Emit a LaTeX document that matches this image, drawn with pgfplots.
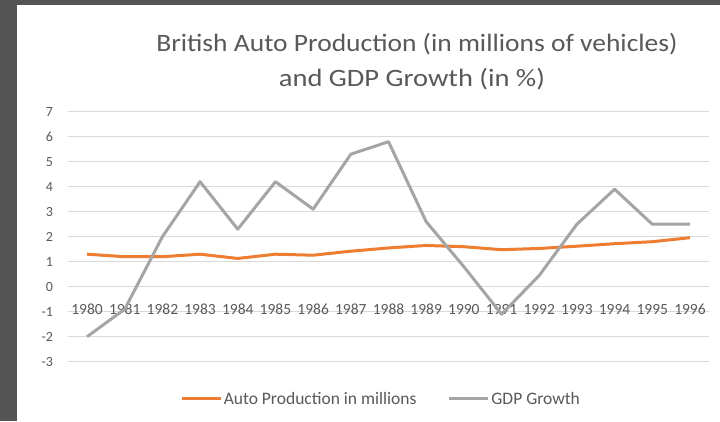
\documentclass[border=0pt]{standalone}
\usepackage{fontspec}
\setmainfont{Carlito}
\usepackage{pgfplots}
\pgfplotsset{compat=1.18}
\definecolor{autoC}{HTML}{ED7D31}
\definecolor{gdpC}{HTML}{A5A5A5}
\definecolor{gridC}{HTML}{D9D9D9}
\definecolor{txtC}{HTML}{595959}
\definecolor{frameC}{HTML}{545454}
\begin{document}
\begin{tikzpicture}[x=1pt,y=1pt]
\path[use as bounding box] (0pt,0pt) rectangle (720pt,421pt);
\fill[white] (0pt,0pt) rectangle (720pt,421pt);
\fill[frameC] (0pt,0pt) rectangle (17pt,421pt);
\fill[frameC] (0pt,416pt) rectangle (720pt,421pt);
\node[anchor=base, text=txtC, font=\fontsize{25}{28}\selectfont, transform shape, xscale=1.1] at (417pt,369pt) {British Auto Production (in millions of vehicles)};
\node[anchor=base, text=txtC, font=\fontsize{25}{28}\selectfont, transform shape, xscale=1.14] at (412pt,334pt) {and GDP Growth (in \%)};
\begin{axis}[
  at={(68.2pt,59.3pt)}, anchor=south west,
  scale only axis, width=640.6pt, height=250pt,
  xmin=-0.5, xmax=16.5, ymin=-3, ymax=7,
  xtick={0,...,16},
  xticklabels={1980,1981,1982,1983,1984,1985,1986,1987,1988,1989,1990,1991,1992,1993,1994,1995,1996},
  ytick={-3,-2,-1,0,1,2,3,4,5,6,7},
  yticklabels={-3,-2,-1,0,1,2,3,4,5,6,7},
  ymajorgrids, major grid style={gridC, line width=1pt},
  axis line style={draw=none},
  major tick length=0pt,
  tick label style={text=txtC, font=\fontsize{14}{16}\selectfont},
  yticklabel style={anchor=east, inner sep=0pt, xshift=-15pt},
  xticklabel style={anchor=center, inner sep=0pt, yshift=52pt, font=\fontsize{15.5}{17}\selectfont},
  legend columns=2,
  legend style={draw=none, fill=none, at={(0.488,-0.148)}, anchor=center,
    font=\fontsize{17.5}{20}\selectfont, text=txtC,
    nodes={inner sep=1.5pt},
    /tikz/every even column/.append style={column sep=30pt}},
  legend image code/.code={\draw[#1] (0pt,0pt) -- (39pt,0pt);},
]
\addplot[autoC, line width=3pt, line join=round] coordinates {
(0,1.30) (1,1.20) (2,1.20) (3,1.30) (4,1.13) (5,1.30) (6,1.26) (7,1.42)
(8,1.55) (9,1.65) (10,1.60) (11,1.48) (12,1.53) (13,1.62) (14,1.72) (15,1.80) (16,1.96)};
\addlegendentry{Auto Production in millions}
\addplot[gdpC, line width=3pt, line join=round] coordinates {
(0,-2.0) (1,-0.9) (2,2.0) (3,4.2) (4,2.3) (5,4.2) (6,3.1) (7,5.3)
(8,5.8) (9,2.6) (10,0.8) (11,-1.1) (12,0.45) (13,2.5) (14,3.9) (15,2.5) (16,2.5)};
\addlegendentry{GDP Growth}
\end{axis}
\end{tikzpicture}
\end{document}
